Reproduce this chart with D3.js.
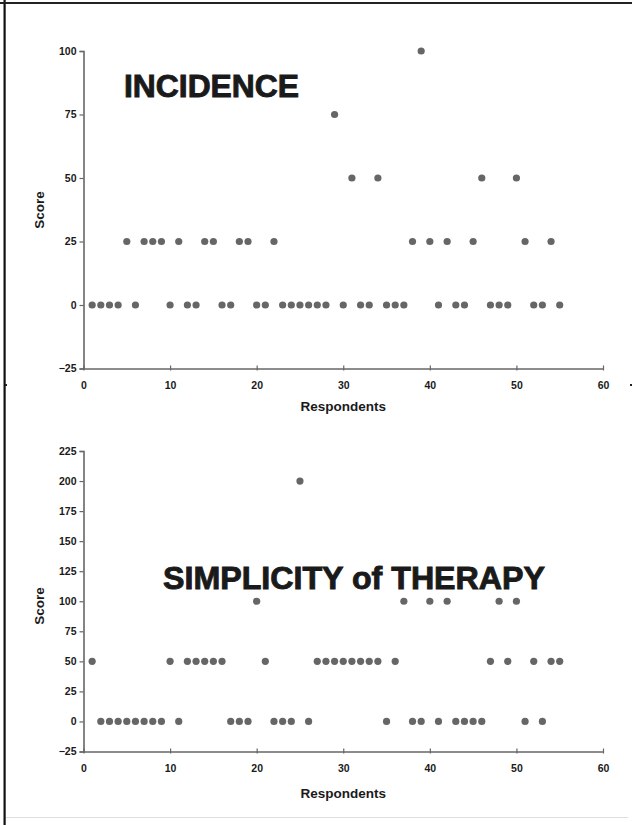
<!DOCTYPE html>
<html><head><meta charset="utf-8">
<script src="https://cdnjs.cloudflare.com/ajax/libs/d3/7.8.5/d3.min.js"></script>
<style>body{margin:0;background:#fff}svg{display:block}</style>
</head><body>
<script>
// Respondent numbers (1..55)
const respondents = d3.range(1, 56);
// INCIDENCE scores per respondent
const incidence = [0,0,0,0,25,0,25,25,25,0,25,0,0,25,25,0,0,25,25,0,0,25,0,0,0,0,0,0,75,0,50,0,0,50,0,0,0,25,100,25,0,25,0,0,25,50,0,0,0,50,25,0,0,25,0];
// SIMPLICITY of THERAPY scores per respondent
const simplicity = [50,0,0,0,0,0,0,0,0,50,0,50,50,50,50,50,0,0,0,100,50,0,0,0,200,0,50,50,50,50,50,50,50,50,0,50,100,0,0,100,0,100,0,0,0,0,50,100,50,100,0,50,0,50,50];
const xTicks = [0,10,20,30,40,50,60];
const yTicksTop = [-25,0,25,50,75,100];
const yTicksBottom = [-25,0,25,50,75,100,125,150,175,200,225];
const titles = ["INCIDENCE", "SIMPLICITY of THERAPY"];
const xLabel = "Respondents", yLabel = "Score";

const W = 632, H = 825;
const svg = d3.select("body").append("svg").attr("width", W).attr("height", H);
svg.append("rect").attr("width", W).attr("height", H).attr("fill", "#fff");
// page frame
svg.append("rect").attr("x", 3.5).attr("y", 0).attr("width", 2.2).attr("height", H).attr("fill", "#111");
svg.append("rect").attr("x", 0).attr("y", 2).attr("width", W).attr("height", 2).attr("fill", "#222");
svg.append("rect").attr("x", 6).attr("y", 817).attr("width", W - 10).attr("height", 1).attr("fill", "#ddd");
svg.append("rect").attr("x", 5).attr("y", 384).attr("width", 2).attr("height", 2).attr("fill", "#222");
svg.append("rect").attr("x", 630).attr("y", 384).attr("width", 2).attr("height", 2).attr("fill", "#222");

const axisColor = "#666", dotColor = "#666";
const fontFam = "'Liberation Sans', Arial, sans-serif";

function panel(cfg) {
  const x = d3.scaleLinear().domain([0, 60]).range([83.5, 603]);
  const y = d3.scaleLinear().domain([cfg.yTicks[0], cfg.yTicks[cfg.yTicks.length - 1]]).range([cfg.yBottom, cfg.yTop]);
  const g = svg.append("g");

  const ya = g.append("g").attr("transform", `translate(${x(0)},0)`)
    .call(d3.axisLeft(y).tickValues(cfg.yTicks).tickSize(4).tickPadding(3).tickFormat(d3.format("d")));
  const xa = g.append("g").attr("transform", `translate(0,${y(cfg.yTicks[0])})`)
    .call(d3.axisBottom(x).tickValues(xTicks).tickSize(0).tickPadding(13).tickFormat(d3.format("d")));
  // x ticks crossing the axis line
  xa.selectAll(".tick").append("line").attr("y1", -3).attr("y2", 2).attr("stroke", axisColor).attr("stroke-width", 1.2);
  [ya, xa].forEach(a => {
    a.select(".domain").attr("stroke", axisColor).attr("stroke-width", 1.6);
    a.selectAll(".tick line").attr("stroke", axisColor).attr("stroke-width", 1.2);
    a.selectAll(".tick text").attr("fill", "#1a1a1a").attr("font-family", fontFam).attr("font-weight", "bold").attr("font-size", 10.5);
  });

  g.append("text").attr("x", (x(0) + x(60)) / 2).attr("y", cfg.xLabelY).attr("text-anchor", "middle")
    .attr("font-family", fontFam).attr("font-weight", "bold").attr("font-size", 13.5).attr("fill", "#1a1a1a").text(xLabel);
  g.append("text").attr("transform", `translate(44,${cfg.yLabelY}) rotate(-90)`).attr("text-anchor", "middle")
    .attr("font-family", fontFam).attr("font-weight", "bold").attr("font-size", 13.5).attr("fill", "#1a1a1a").text(yLabel);

  g.append("text").attr("x", cfg.titleX).attr("y", cfg.titleY)
    .attr("font-family", fontFam).attr("font-weight", "bold").attr("font-size", 31).attr("fill", "#1a1a1a")
    .attr("stroke", "#1a1a1a").attr("stroke-width", 0.9)
    .attr("textLength", cfg.titleLen).attr("lengthAdjust", "spacingAndGlyphs").text(cfg.title);

  g.append("g").selectAll("circle").data(cfg.values).join("circle")
    .attr("cx", (d, i) => x(respondents[i])).attr("cy", d => y(d)).attr("r", 3.6).attr("fill", dotColor);
}

panel({values: incidence, yTicks: yTicksTop, yTop: 51, yBottom: 368.5, xLabelY: 411, yLabelY: 210,
  title: titles[0], titleX: 124, titleY: 97, titleLen: 175});
panel({values: simplicity, yTicks: yTicksBottom, yTop: 451, yBottom: 751.5, xLabelY: 798, yLabelY: 606,
  title: titles[1], titleX: 163, titleY: 589, titleLen: 382});
</script>
</body></html>
